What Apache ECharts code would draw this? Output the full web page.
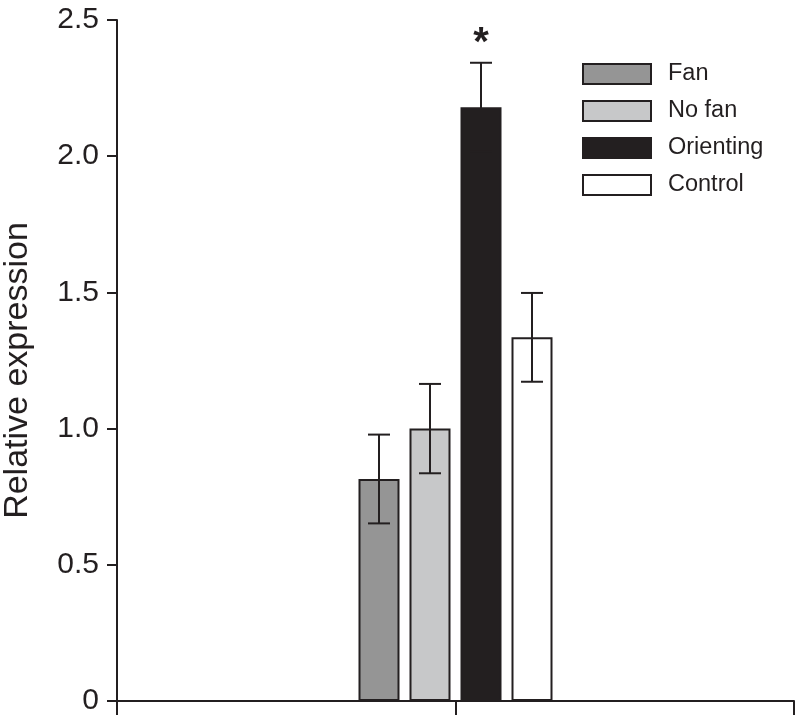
<!DOCTYPE html>
<html>
<head>
<meta charset="utf-8">
<script src="https://cdn.jsdelivr.net/npm/echarts@6/dist/echarts.min.js"></script>
<style>
html,body{margin:0;padding:0;background:#fff;}
#chart{width:796px;height:720px;}
</style>
</head>
<body>
<div id="chart"></div>
<script>
var groupNames = ['Fan', 'No fan', 'Orienting', 'Control'];
var meanValues = [0.815, 1.0, 2.18, 1.335];
var errorValues = [0.163, 0.164, 0.163, 0.163];
var significant = [false, false, true, false];
var yTicks = [0, 0.5, 1.0, 1.5, 2.0, 2.5];
var barColors = ['#959595', '#c7c8c9', '#231f20', '#ffffff'];

var INK = '#231f20';
var BAR_W = 41;
var BAR_GAP = 10;

var chart = echarts.init(document.getElementById('chart'));

var series = [];
groupNames.forEach(function (name, i) {
  series.push({
    name: name,
    type: 'bar',
    xAxisIndex: 0,
    data: [meanValues[i]],
    barWidth: BAR_W,
    barGap: (BAR_GAP / BAR_W * 100) + '%',
    itemStyle: { color: barColors[i], borderColor: INK, borderWidth: 2 },
    emphasis: { disabled: true },
    z: 2
  });
});
groupNames.forEach(function (name, i) {
  series.push({
    name: name + ' err',
    type: 'custom',
    xAxisIndex: 0,
    data: [[0, meanValues[i] - errorValues[i], meanValues[i] + errorValues[i], significant[i] ? 1 : 0]],
    z: 5,
    renderItem: function (params, api) {
      var off = (i - 1.5) * (BAR_W + BAR_GAP);
      var lo = api.coord([api.value(0), api.value(1)]);
      var hi = api.coord([api.value(0), api.value(2)]);
      var x = lo[0] + off;
      var cap = 11;
      var st = { stroke: INK, lineWidth: 2 };
      var children = [
        { type: 'line', shape: { x1: x, y1: lo[1], x2: x, y2: hi[1] }, style: st },
        { type: 'line', shape: { x1: x - cap, y1: lo[1], x2: x + cap, y2: lo[1] }, style: st },
        { type: 'line', shape: { x1: x - cap, y1: hi[1], x2: x + cap, y2: hi[1] }, style: st }
      ];
      if (api.value(3)) {
        children.push({
          type: 'text',
          style: {
            text: '*', x: x, y: hi[1] - 19, align: 'center', verticalAlign: 'middle',
            fill: INK, font: 'bold 40px "Liberation Sans", Arial, sans-serif'
          }
        });
      }
      return { type: 'group', children: children };
    }
  });
});

chart.setOption({
  animation: false,
  backgroundColor: '#ffffff',
  grid: { left: 117, right: 2, top: 20, bottom: 19, containLabel: false, outerBoundsMode: 'none' },
  legend: {
    data: groupNames,
    orient: 'vertical',
    left: 577,
    top: 57,
    icon: 'rect',
    itemWidth: 68,
    itemHeight: 20,
    itemGap: 13,
    selectedMode: false,
    textStyle: { fontSize: 23.5, color: INK, fontFamily: '"Liberation Sans", Arial, sans-serif', padding: [0, 0, 0, 12] },
    itemStyle: { borderColor: INK, borderWidth: 2 }
  },
  xAxis: [
    {
      type: 'category',
      data: [''],
      position: 'bottom',
      axisLine: { show: true, lineStyle: { color: INK, width: 2 } },
      axisTick: { show: false },
      axisLabel: { show: false }
    },
    {
      type: 'value',
      min: 0, max: 2, interval: 1,
      position: 'bottom',
      axisLine: { show: false },
      axisTick: { show: true, length: 14, lineStyle: { color: INK, width: 2 } },
      axisLabel: { show: false },
      splitLine: { show: false }
    }
  ],
  yAxis: {
    type: 'value',
    min: 0, max: 2.5, interval: 0.5,
    name: 'Relative expression',
    nameLocation: 'middle',
    nameGap: 82,
    nameTextStyle: { fontSize: 34, color: INK, fontFamily: '"Liberation Sans", Arial, sans-serif', padding: [0, 20, 0, 0] },
    axisLine: { show: true, lineStyle: { color: INK, width: 2 } },
    axisTick: { show: true, length: 10, lineStyle: { color: INK, width: 2 } },
    axisLabel: {
      fontSize: 30, color: INK, margin: 18,
      fontFamily: '"Liberation Sans", Arial, sans-serif',
      formatter: function (v) {
        return v === yTicks[0] ? '0' : v.toFixed(1);
      }
    },
    splitLine: { show: false }
  },
  series: series
});
</script>
</body>
</html>
